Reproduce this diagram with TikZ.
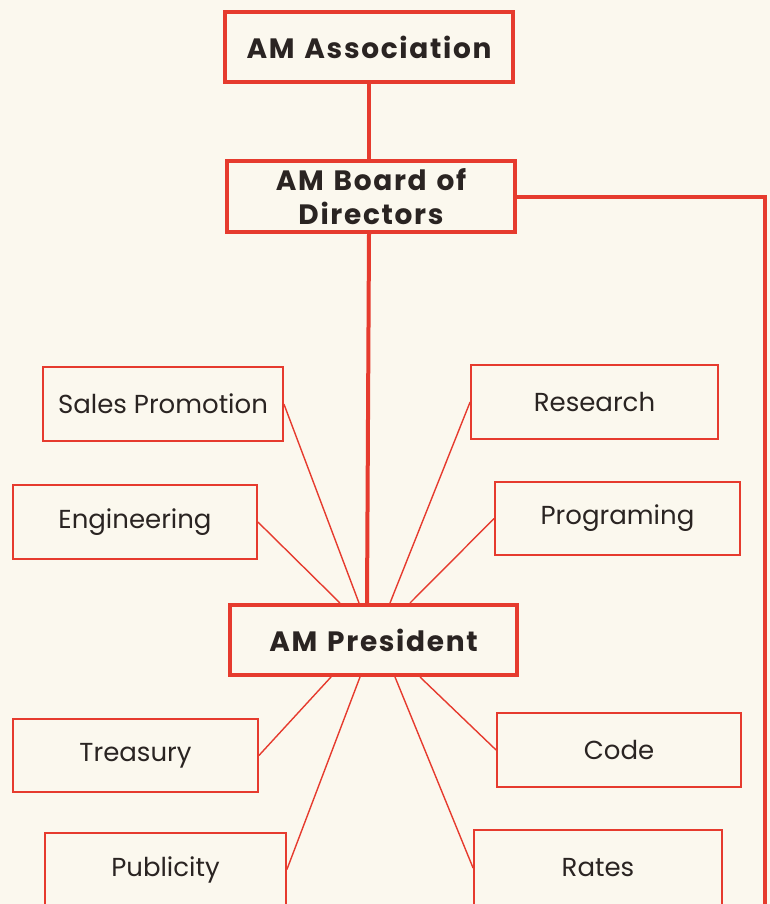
\documentclass[tikz,border=0pt]{standalone}
\usepackage{fontspec}
\setmainfont{Poppins}
\newfontfamily\headfont{Poppins}[LetterSpace=6, WordSpace=1.3]
\usetikzlibrary{calc}
\definecolor{bg}{HTML}{FBF8EE}
\definecolor{amred}{HTML}{E63B2E}
\definecolor{ink}{HTML}{2A2422}
\tikzset{
  big/.style={draw=amred, line width=4pt, rectangle, inner sep=0pt, text=ink,
    align=center, font=\headfont\bfseries\fontsize{28}{34}\selectfont},
  small/.style={draw=amred, line width=1.8pt, rectangle, inner sep=0pt, text=ink,
    align=center, font=\fontsize{26}{29}\selectfont},
  trunk/.style={draw=amred, line width=4pt},
  twig/.style={draw=amred, line width=1.4pt}
}
\begin{document}
\begin{tikzpicture}[x=1pt, y=-1pt]
\fill[bg] (0,0) rectangle (770,904);
\useasboundingbox (0,0) rectangle (770,904);
% main boxes
\node[big, minimum width=288pt, minimum height=70pt] (assoc) at (369,47) {AM Association};
\node[big, minimum width=288pt, minimum height=71pt] (board) at (371,196.5) {AM Board of\\Directors};
\node[big, minimum width=287pt, minimum height=70pt] (pres) at (373.5,640) {AM President};
% department boxes
\node[small, minimum width=240pt, minimum height=74pt] (sales) at (163,404) {Sales Promotion};
\node[small, minimum width=244pt, minimum height=74pt] (eng) at (135,522) {Engineering};
\node[small, minimum width=247pt, minimum height=74pt] (research) at (594.5,402) {Research};
\node[small, minimum width=245pt, minimum height=73pt] (prog) at (617.5,518.5) {Programing};
\node[small, minimum width=245pt, minimum height=73pt] (treas) at (135.5,755.5) {Treasury};
\node[small, minimum width=241pt, minimum height=73pt] (pub) at (165.5,869.5) {Publicity};
\node[small, minimum width=244pt, minimum height=74pt] (code) at (619,750) {Code};
\node[small, minimum width=248pt, minimum height=76pt] (rates) at (598,868) {Rates};
% trunk lines
\coordinate (rc) at (765,912);
\draw[trunk] (assoc.south) -- (assoc.south |- board.north);
\draw[trunk] ($(board.south)+(-2,0)$) -- ($(pres.north west)+(139,0)$);
\draw[trunk] (board.east) -| (rc);
% twigs above president
\draw[twig] (sales.east) -- ($(pres.north west)+(131,0)$);
\draw[twig] (eng.east) -- ($(pres.north west)+(112,0)$);
\draw[twig] (research.west) -- ($(pres.north west)+(162,0)$);
\draw[twig] (prog.west) -- ($(pres.north west)+(182,0)$);
% twigs below president
\draw[twig] (treas.east) -- ($(pres.south west)+(103,0)$);
\draw[twig] (pub.east) -- ($(pres.south west)+(132,0)$);
\draw[twig] (code.west) -- ($(pres.south west)+(192,0)$);
\draw[twig] (rates.west) -- ($(pres.south west)+(167,0)$);
\end{tikzpicture}
\end{document}
